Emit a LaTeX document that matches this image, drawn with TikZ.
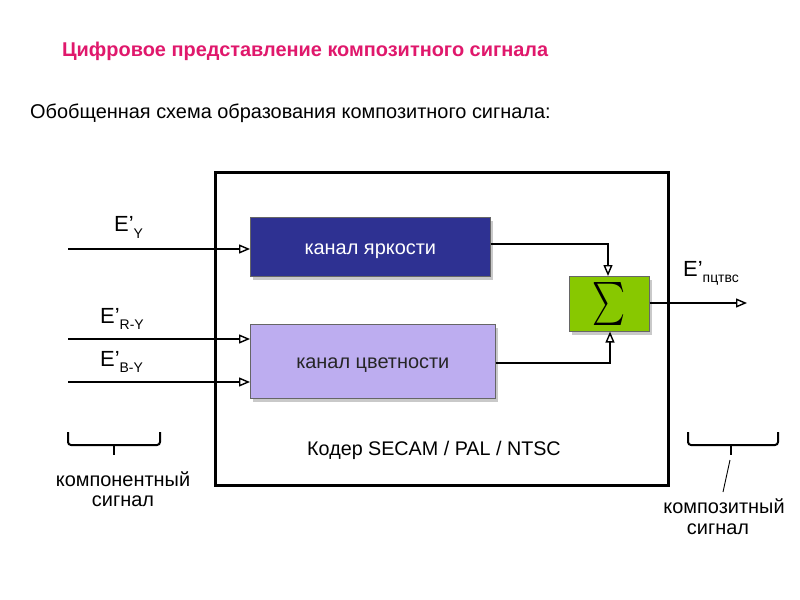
\documentclass[tikz,border=0pt]{standalone}
\usepackage{fontspec}
\usepackage{graphicx}
\setmainfont{Liberation Sans}
\usetikzlibrary{arrows.meta,shadows}
\definecolor{titlered}{HTML}{E0186C}
\definecolor{dblue}{HTML}{2E3192}
\definecolor{lav}{HTML}{BDADF0}
\definecolor{sgreen}{HTML}{88C800}
\newcommand{\fs}[1]{\fontsize{#1}{#1}\selectfont}
\newcommand{\sub}[1]{\raisebox{-0.6ex}{\fs{14}#1}}
\begin{document}
\begin{tikzpicture}[x=1bp,y=-1bp,
  blockbox/.style={draw=black!60, line width=0.6bp, inner sep=0pt, drop shadow={shadow xshift=3bp, shadow yshift=-4bp, fill=black!35, opacity=0.6}},
  sig/.style={line width=2bp, -{Triangle[open,length=11bp,width=9bp,line width=1.4bp]}},
  txt/.style={inner sep=0pt, font=\fs{20}},
  brace/.style={line width=2bp, rounded corners=3bp}
]
\useasboundingbox (0,0) rectangle (800,600);
\fill[white] (0,0) rectangle (800,600);

\node[txt, anchor=west, text=titlered, font=\fs{20}\bfseries] (title) at (62,51) {Цифровое представление композитного сигнала};
\node[txt, anchor=west, font=\fs{20}] (sub) at (30,113) {Обобщенная схема образования композитного сигнала:};

% coder box
\draw[line width=3bp] (215,173) rectangle (668,485);
\node[txt, font=\fs{19.8}] (coder) at (434,450) {Кодер SECAM / PAL / NTSC};

% blocks
\node[blockbox, fill=dblue, minimum width=240bp, minimum height=59bp, anchor=north west, text=white, font=\fs{20}, text depth=0pt, text height=15bp] (b1) at (250,217) {канал яркости};
\node[blockbox, fill=lav, minimum width=245bp, minimum height=74bp, anchor=north west, text=black!85, font=\fs{20}, text depth=0pt, text height=15bp] (b2) at (250,324) {канал цветности};
\node[blockbox, fill=sgreen, minimum width=80bp, minimum height=55bp, anchor=north west] (sum) at (569,276) {\resizebox*{33bp}{43bp}{$\sum$}};

% inputs
\coordinate (iy) at (68,249);
\coordinate (ir) at (68,339);
\coordinate (ib) at (68,382);
\draw[sig] (iy) -- (iy -| b1.west);
\draw[sig] (ir) -- (ir -| b2.west);
\draw[sig] (ib) -- (ib -| b2.west);
\node[txt, font=\fs{22}, anchor=base west] (ly) at (114,232) {E’\sub{Y}};
\node[txt, font=\fs{22}, anchor=base west] (lr) at (100,323) {E’\sub{R-Y}};
\node[txt, font=\fs{22}, anchor=base west] (lb) at (100,366) {E’\sub{B-Y}};

% block outputs to sum
\coordinate (c1) at (608,244);
\coordinate (c2) at (610,363);
\draw[sig] (b1.east |- c1) -- (c1) -- (c1 |- sum.north);
\draw[sig] (b2.east |- c2) -- (c2) -- (c2 |- sum.south);

% output
\coordinate (out) at (747,303);
\draw[sig] (sum.east |- out) -- (out);
\node[txt, font=\fs{22}, anchor=base west] (lo) at (683,276) {E’\sub{пцтвс}};

% left brace
\coordinate (lbl) at (68,432);
\coordinate (lbr) at (160,432);
\draw[brace] (lbl) -- (68,445) -- (160,445) -- (lbr);
\draw[line width=2.6bp] (114,445) -- (114,455);
\node[txt, font=\fs{20}] (comp1) at (123,479) {компонентный};
\node[txt, font=\fs{20}] (comp2) at (123,501) {сигнал};

% right brace
\coordinate (rbl) at (688,432);
\coordinate (rbr) at (778,432);
\draw[brace] (rbl) -- (688,445) -- (778,445) -- (rbr);
\draw[line width=2.6bp] (731,445) -- (731,455);
\coordinate (rt) at (730,460);
\coordinate (rb) at (723,492);
\draw[line width=0.9bp] (rt) -- (rb);
\node[txt, font=\fs{20}] (cs1) at (724,506) {композитный};
\node[txt, font=\fs{20}] (cs2) at (718,529) {сигнал};
\end{tikzpicture}
\end{document}
